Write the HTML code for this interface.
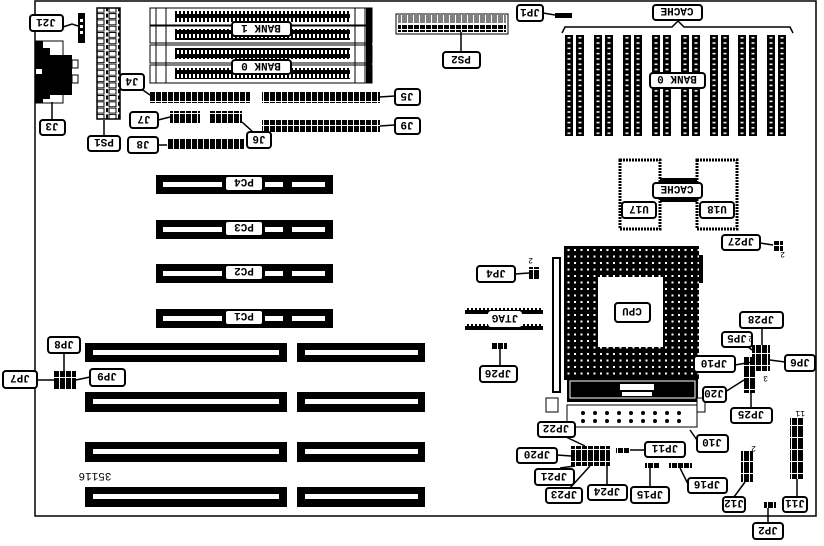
<!DOCTYPE html>
<html><head><meta charset="utf-8"><style>
html,body{margin:0;padding:0;background:#fff;}
svg{display:block;}
text{font-family:"Liberation Mono",monospace;font-size:11px;font-weight:bold;fill:#000;}
.l{fill:#fff;stroke:#000;stroke-width:2;}
.w{fill:#fff;}
.k{fill:#000;}
.ln{stroke:#000;stroke-width:1.5;fill:none;}
</style></head><body>
<svg width="824" height="546" viewBox="0 0 824 546" xmlns="http://www.w3.org/2000/svg">
<defs>
<pattern id="hdr" width="6" height="6" patternUnits="userSpaceOnUse"><rect width="6" height="6" fill="#000"/><rect x="5" y="0" width="1" height="6" fill="#fff"/></pattern>
<pattern id="hdr2" width="6" height="12" patternUnits="userSpaceOnUse"><rect width="6" height="12" fill="#000"/><rect x="5" y="0" width="1" height="12" fill="#fff"/><rect x="0" y="5" width="6" height="1" fill="#fff"/></pattern>
<pattern id="dots" width="6.5" height="6.5" patternUnits="userSpaceOnUse"><rect width="6.5" height="6.5" fill="#000"/><rect x="2" y="2" width="2" height="2" fill="#fff"/></pattern>
<pattern id="pins" width="4" height="8" patternUnits="userSpaceOnUse"><rect width="4" height="8" fill="#000"/><rect x="1" y="2" width="2" height="4" fill="#fff"/></pattern>
<pattern id="chp" width="1" height="0.0525" patternUnits="objectBoundingBox" patternContentUnits="userSpaceOnUse"><rect width="19" height="5.3" fill="#000"/><rect x="2.5" y="2" width="3" height="1.5" fill="#fff"/><rect x="13.5" y="2" width="3" height="1.5" fill="#fff"/><rect x="8" y="0" width="3" height="5.3" fill="#fff"/></pattern>
<pattern id="vps" width="12" height="6.3" patternUnits="userSpaceOnUse"><rect width="12" height="6.3" fill="#fff"/><rect x="1" y="1" width="7" height="5" fill="#fff" stroke="#000" stroke-width="1"/><rect x="10" y="1" width="2" height="4" fill="#000"/></pattern>
</defs>

<path d="M35 1 H816 V516 H35 Z" fill="none" stroke="#000" stroke-width="1.5"/>

<rect x="35" y="41" width="28" height="62" class="w" stroke="#000"/>
<rect x="35" y="41" width="8" height="62" class="k"/>
<path d="M43 48 H50 V55 H72 V95 H50 V99 H43 Z" class="k"/>
<rect x="36" y="69" width="6" height="5" class="w"/>
<rect x="72" y="60" width="6" height="8" class="w" stroke="#000"/><rect x="72" y="75" width="6" height="8" class="w" stroke="#000"/>
<rect x="78" y="13" width="7" height="30" class="k"/>
<rect x="80" y="19" width="3" height="3" class="w"/><rect x="80" y="25" width="3" height="3" class="w"/><rect x="80" y="31" width="3" height="3" class="w"/>

<rect x="97" y="8" width="23" height="111" fill="url(#vps)" stroke="#000" stroke-width="1.5"/>

<g>
<rect x="150" y="8" width="222" height="17" class="w" stroke="#000"/>
<rect x="175" y="11" width="175" height="11" fill="url(#pins)"/>
<rect x="150" y="26" width="222" height="17" class="w" stroke="#000"/>
<rect x="175" y="29" width="175" height="11" fill="url(#pins)"/>
<rect x="150" y="45" width="222" height="18" class="w" stroke="#000"/>
<rect x="175" y="48" width="175" height="11" fill="url(#pins)"/>
<rect x="150" y="65" width="222" height="18" class="w" stroke="#000"/>
<rect x="175" y="68" width="175" height="11" fill="url(#pins)"/>
<rect x="156" y="8" width="10" height="75" fill="none" stroke="#000"/>
<rect x="355" y="8" width="10" height="75" fill="none" stroke="#000"/>
<rect x="366" y="8" width="6" height="75" class="k"/>
</g>

<rect x="150" y="92" width="100" height="11" fill="url(#hdr2)"/>
<rect x="262" y="92" width="118" height="11" fill="url(#hdr2)"/>
<rect x="262" y="120" width="118" height="12" fill="url(#hdr2)"/>
<rect x="170" y="111" width="30" height="12" fill="url(#hdr2)"/>
<rect x="210" y="111" width="32" height="12" fill="url(#hdr2)"/>
<rect x="167" y="139" width="77" height="11" fill="url(#hdr2)"/>

<rect x="396" y="14" width="112" height="20" class="w" stroke="#000"/>
<rect x="398" y="15" width="108" height="8" fill="url(#hdr)" opacity="0.5"/>
<rect x="398" y="25" width="108" height="7" fill="url(#hdr2)"/>
<rect x="555" y="13" width="17" height="5" class="k"/>

<path class="ln" d="M562 33 L565 27 H672 L678 21 L684 27 H790 L793 33"/>
<g fill="url(#chp)">
<rect x="565" y="35" width="19" height="101"/><rect x="594" y="35" width="19" height="101"/>
<rect x="623" y="35" width="19" height="101"/><rect x="652" y="35" width="19" height="101"/>
<rect x="681" y="35" width="19" height="101"/><rect x="710" y="35" width="19" height="101"/>
<rect x="738" y="35" width="19" height="101"/><rect x="767" y="35" width="19" height="101"/>
</g>

<rect x="620" y="160" width="40" height="69" class="w" stroke="#000" stroke-width="3" stroke-dasharray="2 1"/>
<rect x="697" y="160" width="40" height="69" class="w" stroke="#000" stroke-width="3" stroke-dasharray="2 1"/>
<rect x="660" y="178" width="37" height="4" class="k"/><rect x="660" y="198" width="37" height="4" class="k"/>

<rect x="553" y="258" width="7" height="134" class="w" stroke="#000" stroke-width="2"/>
<rect x="699" y="255" width="4" height="28" class="k"/>
<rect x="564" y="246" width="135" height="134" fill="url(#dots)"/>
<rect x="598" y="277" width="65" height="70" class="w"/>
<rect x="567" y="378" width="131" height="24" class="k"/>
<rect x="570" y="381" width="125" height="17" class="k" stroke="#fff"/>
<rect x="620" y="384" width="34" height="6" class="w"/><rect x="622" y="392" width="30" height="4" class="w"/>
<rect x="567" y="405" width="130" height="22" class="w" stroke="#000"/>
<g class="k">
<circle cx="583" cy="413" r="2"/><circle cx="595" cy="413" r="2"/><circle cx="607" cy="413" r="2"/><circle cx="619" cy="413" r="2"/><circle cx="631" cy="413" r="2"/><circle cx="643" cy="413" r="2"/><circle cx="655" cy="413" r="2"/><circle cx="667" cy="413" r="2"/><circle cx="679" cy="413" r="2"/>
<circle cx="583" cy="421" r="2"/><circle cx="595" cy="421" r="2"/><circle cx="607" cy="421" r="2"/><circle cx="619" cy="421" r="2"/><circle cx="631" cy="421" r="2"/><circle cx="643" cy="421" r="2"/><circle cx="655" cy="421" r="2"/><circle cx="667" cy="421" r="2"/><circle cx="679" cy="421" r="2"/>
</g>
<rect x="546" y="398" width="12" height="14" class="w" stroke="#000"/>
<rect x="697" y="398" width="8" height="14" class="w" stroke="#000"/>

<rect x="465" y="308" width="78" height="22" fill="url(#pins)"/>
<rect x="465" y="314" width="78" height="10" class="w"/>

<rect x="529" y="267" width="10" height="12" fill="url(#hdr2)"/>
<rect x="491" y="343" width="16" height="6" fill="url(#hdr)"/>
<rect x="773" y="241" width="10" height="10" fill="url(#hdr2)"/>
<rect x="752" y="345" width="18" height="26" fill="url(#hdr2)"/>
<rect x="743" y="357" width="12" height="36" fill="url(#hdr2)"/>
<rect x="571" y="446" width="39" height="20" fill="url(#hdr2)"/>
<rect x="616" y="448" width="14" height="5" fill="url(#hdr)"/>
<rect x="645" y="463" width="14" height="5" fill="url(#hdr)"/>
<rect x="669" y="463" width="23" height="5" fill="url(#hdr)"/>
<rect x="741" y="451" width="12" height="31" fill="url(#hdr2)"/>
<rect x="790" y="418" width="13" height="61" fill="url(#hdr2)"/>
<rect x="764" y="502" width="12" height="6" fill="url(#hdr)"/>
<rect x="54" y="371" width="22" height="18" fill="url(#hdr2)"/>

<g>
<rect x="156" y="175" width="177" height="19" class="k"/><rect x="163" y="182" width="59" height="5" class="w"/><rect x="265" y="182" width="18" height="5" class="w"/><rect x="292" y="182" width="33" height="5" class="w"/>
<rect x="156" y="220" width="177" height="19" class="k"/><rect x="163" y="227" width="59" height="5" class="w"/><rect x="265" y="227" width="18" height="5" class="w"/><rect x="292" y="227" width="33" height="5" class="w"/>
<rect x="156" y="264" width="177" height="19" class="k"/><rect x="163" y="271" width="59" height="5" class="w"/><rect x="265" y="271" width="18" height="5" class="w"/><rect x="292" y="271" width="33" height="5" class="w"/>
<rect x="156" y="309" width="177" height="19" class="k"/><rect x="163" y="316" width="59" height="5" class="w"/><rect x="265" y="316" width="18" height="5" class="w"/><rect x="292" y="316" width="33" height="5" class="w"/>
</g>
<g>
<rect x="85" y="343" width="202" height="19" class="k"/><rect x="93" y="350" width="186" height="5" class="w"/>
<rect x="297" y="343" width="128" height="19" class="k"/><rect x="305" y="350" width="113" height="5" class="w"/>
<rect x="85" y="392" width="202" height="20" class="k"/><rect x="93" y="399" width="186" height="5" class="w"/>
<rect x="297" y="392" width="128" height="20" class="k"/><rect x="305" y="399" width="113" height="5" class="w"/>
<rect x="85" y="442" width="202" height="20" class="k"/><rect x="93" y="449" width="186" height="5" class="w"/>
<rect x="297" y="442" width="128" height="20" class="k"/><rect x="305" y="449" width="113" height="5" class="w"/>
<rect x="85" y="487" width="202" height="20" class="k"/><rect x="93" y="494" width="186" height="5" class="w"/>
<rect x="297" y="487" width="128" height="20" class="k"/><rect x="305" y="494" width="113" height="5" class="w"/>
</g>
<text x="95" y="481" transform="rotate(180 95 477)" text-anchor="middle" style="font-weight:normal">35116</text>

<g class="ln">
<path d="M63 27 L72 24 L78 26"/><path d="M52 120 V102"/><path d="M104 136 V120"/>
<path d="M140 88 L150 95"/><path d="M380 97 L395 96"/><path d="M158 120 L170 117"/>
<path d="M253 132 L242 122"/><path d="M380 126 L395 125"/><path d="M158 145 L167 145"/>
<path d="M461 52 V32"/><path d="M543 13 L555 15"/>
<path d="M515 274 L529 273"/><path d="M500 365 V349"/><path d="M760 243 L773 245"/>
<path d="M762 311 V345"/><path d="M740 340 L752 350"/><path d="M735 365 L752 362"/>
<path d="M785 362 L770 360"/><path d="M725 392 L744 380"/><path d="M751 408 V393"/>
<path d="M697 440 L690 430"/><path d="M566 437 L585 446"/><path d="M557 455 L571 456"/>
<path d="M560 468 L575 466"/><path d="M570 488 L590 466"/><path d="M607 485 V466"/>
<path d="M645 450 L630 450"/><path d="M650 487 V468"/><path d="M688 484 L680 468"/>
<path d="M734 497 L745 482"/><path d="M797 497 V479"/><path d="M768 523 V508"/>
<path d="M37 380 L54 380"/><path d="M64 353 V371"/><path d="M90 377 L76 380"/>
</g>

<g>
<rect class="l" x="30" y="15" width="33" height="16" rx="3"/><text transform="rotate(180 46 23)" x="46" y="27" text-anchor="middle">J21</text>
<rect class="l" x="40" y="120" width="25" height="15" rx="3"/><text transform="rotate(180 52 127)" x="52" y="131" text-anchor="middle">J3</text>
<rect class="l" x="88" y="136" width="32" height="15" rx="3"/><text transform="rotate(180 104 143)" x="104" y="147" text-anchor="middle">PS1</text>
<rect class="l" x="120" y="74" width="24" height="16" rx="3"/><text transform="rotate(180 132 82)" x="132" y="86" text-anchor="middle">J4</text>
<rect class="l" x="395" y="89" width="25" height="16" rx="3"/><text transform="rotate(180 407 97)" x="407" y="101" text-anchor="middle">J5</text>
<rect class="l" x="130" y="112" width="28" height="16" rx="3"/><text transform="rotate(180 144 120)" x="144" y="124" text-anchor="middle">J7</text>
<rect class="l" x="247" y="132" width="24" height="16" rx="3"/><text transform="rotate(180 259 140)" x="259" y="144" text-anchor="middle">J6</text>
<rect class="l" x="395" y="118" width="25" height="16" rx="3"/><text transform="rotate(180 407 126)" x="407" y="130" text-anchor="middle">J9</text>
<rect class="l" x="128" y="137" width="30" height="16" rx="3"/><text transform="rotate(180 143 145)" x="143" y="149" text-anchor="middle">J8</text>
<rect class="l" x="443" y="52" width="37" height="16" rx="3"/><text transform="rotate(180 461 60)" x="461" y="64" text-anchor="middle">PS2</text>
<rect class="l" x="517" y="5" width="26" height="16" rx="3"/><text transform="rotate(180 530 13)" x="530" y="17" text-anchor="middle">JP1</text>
<rect class="l" x="232" y="22" width="59" height="14" rx="3"/><text transform="rotate(180 261 29)" x="261" y="33" text-anchor="middle">BANK 1</text>
<rect class="l" x="232" y="60" width="59" height="14" rx="3"/><text transform="rotate(180 261 67)" x="261" y="71" text-anchor="middle">BANK 0</text>
<rect class="l" x="653" y="5" width="49" height="15" rx="3"/><text transform="rotate(180 677 12)" x="677" y="16" text-anchor="middle">CACHE</text>
<rect class="l" x="650" y="73" width="55" height="15" rx="3"/><text transform="rotate(180 677 80)" x="677" y="84" text-anchor="middle">BANK 0</text>
<rect class="l" x="653" y="183" width="49" height="15" rx="3"/><text transform="rotate(180 677 190)" x="677" y="194" text-anchor="middle">CACHE</text>
<rect class="l" x="622" y="202" width="34" height="16" rx="3"/><text transform="rotate(180 639 210)" x="639" y="214" text-anchor="middle">U17</text>
<rect class="l" x="700" y="202" width="34" height="16" rx="3"/><text transform="rotate(180 717 210)" x="717" y="214" text-anchor="middle">U18</text>
<rect class="l" x="722" y="235" width="38" height="15" rx="3"/><text transform="rotate(180 741 242)" x="741" y="246" text-anchor="middle">JP27</text>
<rect class="l" x="477" y="266" width="38" height="16" rx="3"/><text transform="rotate(180 496 274)" x="496" y="278" text-anchor="middle">JP4</text>
<rect class="l" x="615" y="303" width="35" height="19" rx="3"/><text transform="rotate(180 632 312)" x="632" y="316" text-anchor="middle">CPU</text>
<rect class="l" x="488" y="311" width="34" height="16" rx="3" style="stroke:none"/><text transform="rotate(180 505 319)" x="505" y="323" text-anchor="middle">JTAG</text>
<rect class="l" x="480" y="366" width="37" height="16" rx="3"/><text transform="rotate(180 498 374)" x="498" y="378" text-anchor="middle">JP26</text>
<rect class="l" x="740" y="312" width="43" height="16" rx="3"/><text transform="rotate(180 761 320)" x="761" y="324" text-anchor="middle">JP28</text>
<rect class="l" x="722" y="332" width="30" height="15" rx="3"/><text transform="rotate(180 737 339)" x="737" y="343" text-anchor="middle">JP5</text>
<rect class="l" x="694" y="356" width="41" height="16" rx="3"/><text transform="rotate(180 714 364)" x="714" y="368" text-anchor="middle">JP10</text>
<rect class="l" x="785" y="355" width="30" height="16" rx="3"/><text transform="rotate(180 800 363)" x="800" y="367" text-anchor="middle">JP6</text>
<rect class="l" x="703" y="387" width="23" height="15" rx="3"/><text transform="rotate(180 714 394)" x="714" y="398" text-anchor="middle">J20</text>
<rect class="l" x="731" y="408" width="41" height="15" rx="3"/><text transform="rotate(180 751 415)" x="751" y="419" text-anchor="middle">JP25</text>
<rect class="l" x="697" y="435" width="31" height="17" rx="3"/><text transform="rotate(180 712 443)" x="712" y="447" text-anchor="middle">J10</text>
<rect class="l" x="538" y="422" width="37" height="15" rx="3"/><text transform="rotate(180 556 429)" x="556" y="433" text-anchor="middle">JP22</text>
<rect class="l" x="517" y="448" width="40" height="15" rx="3"/><text transform="rotate(180 537 455)" x="537" y="459" text-anchor="middle">JP20</text>
<rect class="l" x="535" y="469" width="39" height="16" rx="3"/><text transform="rotate(180 554 477)" x="554" y="481" text-anchor="middle">JP21</text>
<rect class="l" x="546" y="488" width="36" height="15" rx="3"/><text transform="rotate(180 564 495)" x="564" y="499" text-anchor="middle">JP23</text>
<rect class="l" x="588" y="485" width="39" height="15" rx="3"/><text transform="rotate(180 607 492)" x="607" y="496" text-anchor="middle">JP24</text>
<rect class="l" x="645" y="442" width="40" height="15" rx="3"/><text transform="rotate(180 665 449)" x="665" y="453" text-anchor="middle">JP11</text>
<rect class="l" x="631" y="487" width="38" height="16" rx="3"/><text transform="rotate(180 650 495)" x="650" y="499" text-anchor="middle">JP15</text>
<rect class="l" x="688" y="478" width="39" height="15" rx="3"/><text transform="rotate(180 707 485)" x="707" y="489" text-anchor="middle">JP16</text>
<rect class="l" x="723" y="497" width="22" height="15" rx="3"/><text transform="rotate(180 734 504)" x="734" y="508" text-anchor="middle">J12</text>
<rect class="l" x="783" y="497" width="24" height="15" rx="3"/><text transform="rotate(180 795 504)" x="795" y="508" text-anchor="middle">J11</text>
<rect class="l" x="753" y="523" width="30" height="16" rx="3"/><text transform="rotate(180 768 531)" x="768" y="535" text-anchor="middle">JP2</text>
<rect class="l" x="3" y="371" width="34" height="17" rx="3"/><text transform="rotate(180 20 379)" x="20" y="383" text-anchor="middle">JP7</text>
<rect class="l" x="48" y="337" width="32" height="16" rx="3"/><text transform="rotate(180 64 345)" x="64" y="349" text-anchor="middle">JP8</text>
<rect class="l" x="90" y="369" width="35" height="17" rx="3"/><text transform="rotate(180 107 377)" x="107" y="381" text-anchor="middle">JP9</text>
<rect class="l" x="225" y="176" width="38" height="15" rx="3"/><text transform="rotate(180 244 183)" x="244" y="187" text-anchor="middle">PC4</text>
<rect class="l" x="225" y="221" width="38" height="15" rx="3"/><text transform="rotate(180 244 228)" x="244" y="232" text-anchor="middle">PC3</text>
<rect class="l" x="225" y="265" width="38" height="15" rx="3"/><text transform="rotate(180 244 272)" x="244" y="276" text-anchor="middle">PC2</text>
<rect class="l" x="225" y="310" width="38" height="15" rx="3"/><text transform="rotate(180 244 317)" x="244" y="321" text-anchor="middle">PC1</text>
</g>
<g>
<text x="533" y="264" transform="rotate(180 533 261)" style="font-size:8px;font-weight:normal">2</text>
<text x="785" y="258" transform="rotate(180 785 255)" style="font-size:8px;font-weight:normal">2</text>
<text x="753" y="342" transform="rotate(180 753 339)" style="font-size:8px;font-weight:normal">2</text>
<text x="768" y="382" transform="rotate(180 768 379)" style="font-size:8px;font-weight:normal">3</text>
<text x="756" y="452" transform="rotate(180 756 449)" style="font-size:8px;font-weight:normal">2</text>
<text x="805" y="417" transform="rotate(180 805 414)" style="font-size:8px;font-weight:normal">11</text>
</g>
</svg>
</body></html>
